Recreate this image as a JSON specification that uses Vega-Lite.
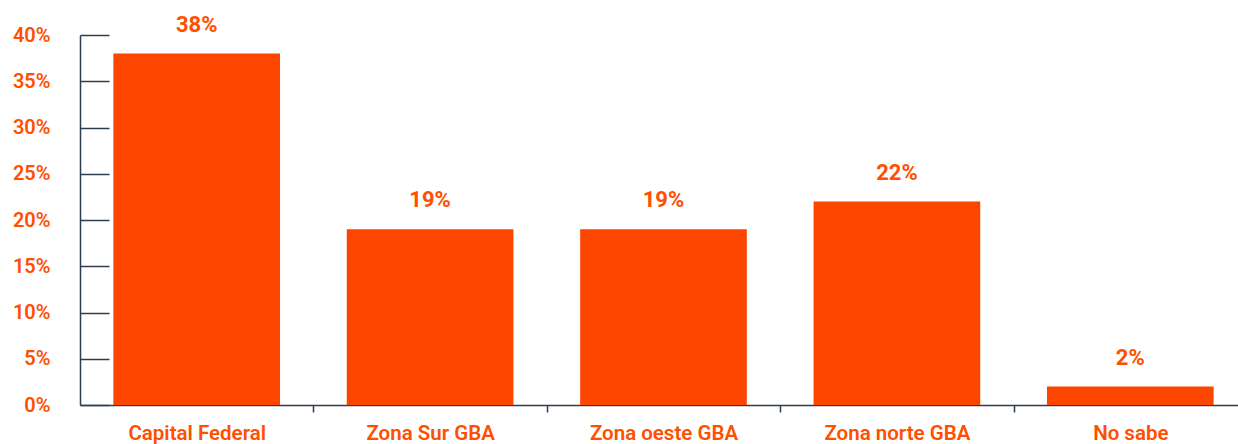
{
  "$schema": "https://vega.github.io/schema/vega-lite/v6.json",
  "autosize": "none",
  "padding": {"left": 80, "top": 35, "right": 0, "bottom": 39},
  "width": 1158,
  "height": 370,
  "background": "white",
  "data": {"values": [
    {"zona": "Capital Federal", "pct": 0.38},
    {"zona": "Zona Sur GBA", "pct": 0.19},
    {"zona": "Zona oeste GBA", "pct": 0.19},
    {"zona": "Zona norte GBA", "pct": 0.22},
    {"zona": "No sabe", "pct": 0.02}
  ]},
  "config": {"view": {"stroke": null}, "font": "Roboto"},
  "encoding": {
    "x": {"field": "zona", "type": "nominal", "sort": null,
      "scale": {"range": [0, 1167], "paddingInner": 0.286, "paddingOuter": 0.143},
      "axis": {"title": null, "labelAngle": 0, "domainColor": "#2c3e50", "domainWidth": 1.5,
        "tickColor": "#2c3e50", "tickWidth": 1.5, "tickSize": 7, "tickOffset": 116.7,
        "labelOffset": -116.7,
        "labelColor": "#FF4F00", "labelFontSize": 20.5, "labelFontWeight": 600,
        "labelPadding": 11, "grid": false}},
    "y": {"field": "pct", "type": "quantitative",
      "scale": {"domain": [0, 0.4], "nice": false},
      "axis": {"title": null, "values": [0, 0.05, 0.1, 0.15, 0.2, 0.25, 0.3, 0.35, 0.4],
        "format": ".0%", "grid": false,
        "domainColor": "#2c3e50", "domainWidth": 1.5,
        "tickColor": "#2c3e50", "tickWidth": 1.5, "tickSize": -29,
        "labelColor": "#FF4F00", "labelFontSize": 20, "labelFontWeight": 600,
        "labelPadding": 59}}
  },
  "layer": [
    {"mark": {"type": "bar", "color": "#FC4600"}},
    {"mark": {"type": "text", "color": "#FF4F00", "fontSize": 22, "fontWeight": "bold", "baseline": "bottom", "dy": -17},
     "encoding": {"text": {"field": "pct", "type": "quantitative", "format": ".0%"}}}
  ]
}
